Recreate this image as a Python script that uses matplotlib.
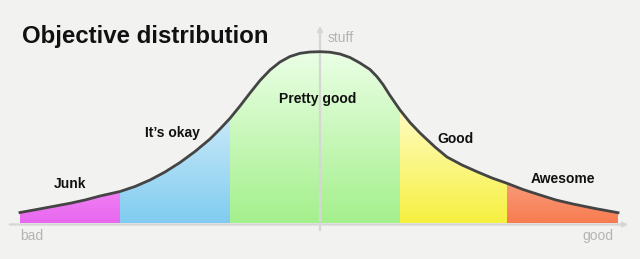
import numpy as np
import matplotlib.pyplot as plt
from matplotlib.patches import Polygon
from matplotlib.colors import to_rgb

plt.rcParams['font.family'] = ['Liberation Sans', 'DejaVu Sans']

# curve (x: quality, y: amount of stuff)
curve_x = [-300, -285, -270, -250, -235, -220, -200, -185, -170, -155, -140,
           -125, -110, -100, -90, -80, -70, -60, -50, -40, -30, -20, -10, 0,
           10, 20, 30, 40, 50, 57, 63, 70, 80, 90, 100, 115, 127, 142, 157,
           172, 187, 203, 220, 236, 253, 275, 298]
curve_y = [10.5, 13.2, 16.0, 19.7, 23.0, 27.0, 31.5, 36.5, 43.0, 51.0, 60.5,
           71.5, 84.0, 94.0, 104.7, 117.0, 130.0, 142.5, 153.0, 161.0, 166.5,
           169.7, 171.0, 171.3, 170.8, 169.0, 165.5, 160.0, 153.5, 146.3,
           138.5, 127.5, 113.0, 100.5, 90.0, 76.0, 66.0, 58.0, 51.3, 45.0,
           39.7, 33.5, 28.0, 23.0, 19.0, 14.5, 10.3]

band_edges = [-300, -200, -90, 80, 187, 298]
band_names = ['Junk', 'It\u2019s okay', 'Pretty good', 'Good', 'Awesome']
band_top_colors = ['#f07ef2', '#c8e8f8', '#ebffe6', '#fffcc2', '#f89a78']
band_bottom_colors = ['#e868f0', '#80ccf0', '#a4f08c', '#f6f040', '#f87c50']
label_x = [-250, -148, -2, 136, 243]
label_y = [39, 90, 124, 84, 44]


def DrawFig():
  fig = plt.figure(figsize=(6.4, 2.59), dpi=100)
  fig.patch.set_facecolor('#f2f2f1')
  ax = fig.add_axes([0, 0, 1, 1])
  ax.set_facecolor('#f2f2f1')
  ax.set_xlim(-320, 320)
  ax.set_ylim(-36, 223)
  ax.axis('off')

  cx = np.array(curve_x, dtype=float)
  cy = np.array(curve_y, dtype=float)

  # coloured bands with a vertical gradient
  for i in range(len(band_names)):
    x0, x1 = band_edges[i], band_edges[i + 1]
    m = (cx >= x0) & (cx <= x1)
    bx, by = cx[m], cy[m]
    verts = [(x0, 0)] + list(zip(bx, by)) + [(x1, 0)]
    poly = Polygon(verts, closed=True, facecolor='none', edgecolor='none',
                   transform=ax.transData)
    ax.add_patch(poly)
    top = by.max()
    c_top = np.array(to_rgb(band_top_colors[i]))
    c_bot = np.array(to_rgb(band_bottom_colors[i]))
    t = np.linspace(0, 1, 200)[:, None]
    grad = (c_bot * (1 - t) + c_top * t)[:, None, :]
    im = ax.imshow(grad, extent=(x0, x1, 0, top), origin='lower',
                   aspect='auto', zorder=1, interpolation='bilinear')
    im.set_clip_path(poly)
    ax.text(label_x[i], label_y[i], band_names[i], ha='center', va='center',
            fontsize=10, fontweight='bold', color='#111111', zorder=5)

  # axes
  ax.annotate('', xy=(311, -1.5), xytext=(-313, -1.5),
              arrowprops=dict(arrowstyle='-|>', color='#d6d6d6', lw=1.6,
                              mutation_scale=7), zorder=2)
  ax.annotate('', xy=(0, 200), xytext=(0, -10),
              arrowprops=dict(arrowstyle='-|>', color='#d6d6d6', lw=1.6,
                              mutation_scale=7), zorder=2)

  ax.plot(cx, cy, color='#444444', lw=2.0, zorder=4, solid_joinstyle='round')

  ax.text(-298, 187, 'Objective distribution', ha='left', va='center',
          fontsize=17.3, fontweight='bold', color='#111111')
  ax.text(8, 185, 'stuff', ha='left', va='center', fontsize=10, color='#b4b4b4')
  ax.text(-300, -13, 'bad', ha='left', va='center', fontsize=10, color='#b4b4b4')
  ax.text(293, -13, 'good', ha='right', va='center', fontsize=10, color='#b4b4b4')

  plt.savefig('out.png', dpi=100, facecolor=fig.get_facecolor())
  return


def main():
  DrawFig()
  return


if __name__ == '__main__':
  main()
